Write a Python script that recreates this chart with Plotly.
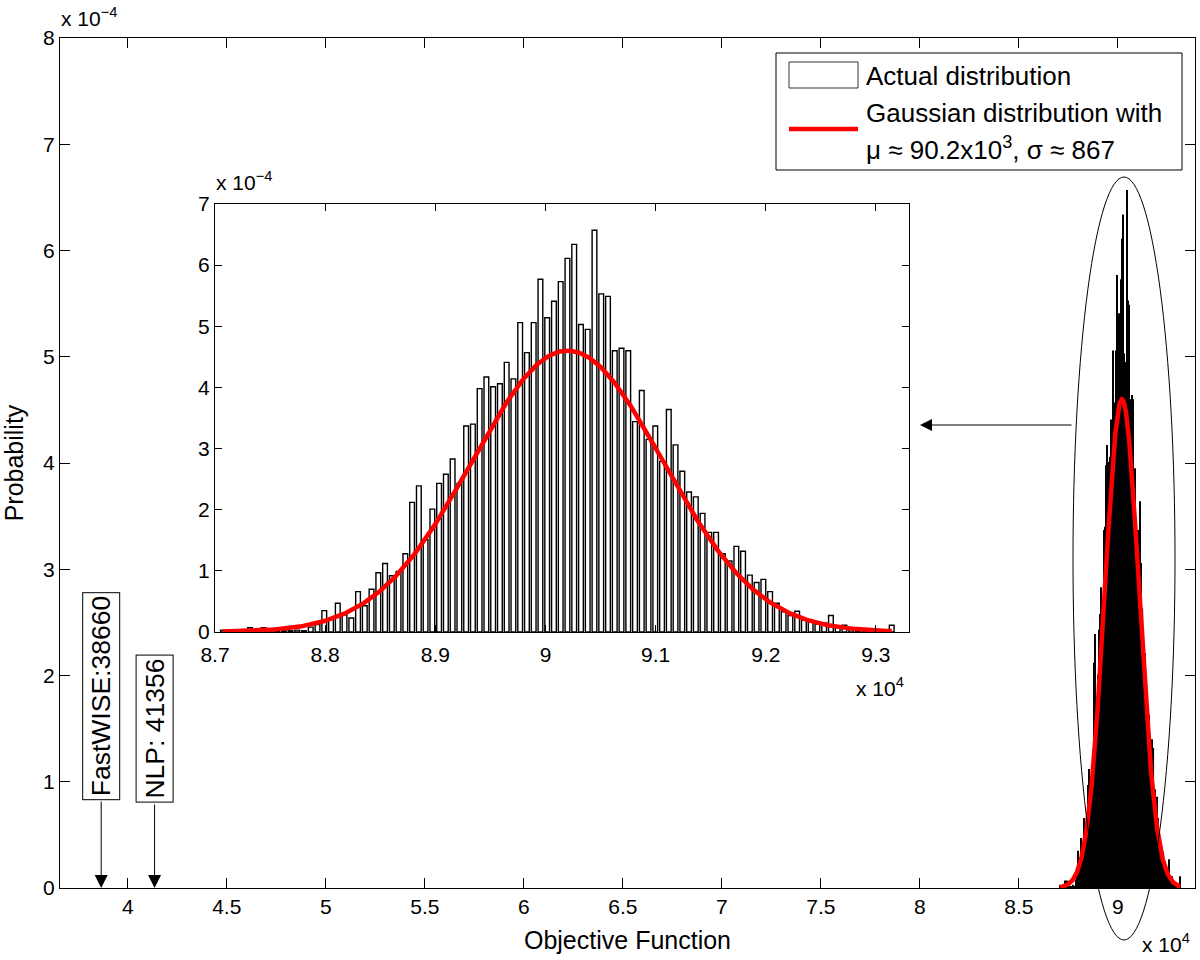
import numpy as np
import plotly.graph_objects as go

# ---------------- data ----------------
# histogram of objective-function values (probability, in units of 1e-4)
prob_e4 = [
    0.03, 0.00, 0.00, 0.00, 0.07, 0.00, 0.07, 0.02, 0.01, 0.02,
    0.02, 0.03, 0.02, 0.08, 0.12, 0.35, 0.21, 0.47, 0.28, 0.23,
    0.66, 0.43, 0.70, 0.97, 1.12, 0.92, 0.99, 1.28, 2.12, 2.39,
    1.51, 2.01, 2.43, 2.58, 2.83, 2.43, 3.37, 3.40, 3.98, 4.17,
    4.01, 4.06, 4.41, 4.14, 5.06, 4.57, 5.06, 5.77, 5.14, 5.41,
    5.73, 6.11, 6.34, 5.03, 4.95, 6.57, 5.53, 5.49, 4.60, 4.64,
    4.60, 3.44, 3.95, 3.15, 3.37, 2.79, 3.64, 3.06, 2.63, 2.29,
    2.21, 1.94, 1.63, 1.63, 1.28, 1.16, 1.40, 1.32, 0.93, 0.81,
    0.86, 0.66, 0.47, 0.33, 0.27, 0.34, 0.19, 0.18, 0.13, 0.15,
    0.27, 0.08, 0.11, 0.04, 0.02, 0.02, 0.01, 0.00, 0.00, 0.11,
]
first_bin_center = 87072
last_bin_center = 93143

# fitted Gaussian (from legend)
gauss_mu = 90200
gauss_sigma = 867

# reference solutions
ref_names = ["FastWISE:38660", "NLP: 41356"]
ref_values = [38660, 41356]

# axis ticks
main_xticks = [40000, 45000, 50000, 55000, 60000, 65000, 70000, 75000, 80000, 85000, 90000]
main_xticklabels = ["4", "4.5", "5", "5.5", "6", "6.5", "7", "7.5", "8", "8.5", "9"]
main_yticks_e4 = [0, 1, 2, 3, 4, 5, 6, 7, 8]
inset_xticks = [87000, 88000, 89000, 90000, 91000, 92000, 93000]
inset_xticklabels = ["8.7", "8.8", "8.9", "9", "9.1", "9.2", "9.3"]
inset_yticks_e4 = [0, 1, 2, 3, 4, 5, 6, 7]

# ---------------- derived ----------------
probs = np.array(prob_e4) * 1e-4
n_bins = len(probs)
centers = np.linspace(first_bin_center, last_bin_center, n_bins)
bin_w = (last_bin_center - first_bin_center) / (n_bins - 1)
curve_x = np.linspace(first_bin_center, last_bin_center, 400)
curve_y = np.exp(-0.5 * ((curve_x - gauss_mu) / gauss_sigma) ** 2) / (gauss_sigma * np.sqrt(2 * np.pi))

FONT = "Liberation Sans, Arial, Helvetica, sans-serif"
W, H = 1200, 960
ML, MR, MT, MB = 60, 5, 38, 72
PW, PH = W - ML - MR, H - MT - MB


def px(xp):
    return (xp - ML) / PW


def py(yp):
    return (H - MB - yp) / PH


fig = go.Figure()

# main histogram + Gaussian
fig.add_trace(go.Bar(x=centers, y=probs, width=bin_w, marker=dict(color="black", line=dict(width=0)),
                     xaxis="x", yaxis="y", showlegend=False, hoverinfo="skip"))
fig.add_trace(go.Scatter(x=curve_x, y=curve_y, mode="lines", line=dict(color="#ff0000", width=4.5),
                         xaxis="x", yaxis="y", showlegend=False, hoverinfo="skip"))

# inset histogram + Gaussian
fig.add_trace(go.Bar(x=centers, y=probs, width=bin_w * 0.7,
                     marker=dict(color="white", line=dict(color="black", width=1.4)),
                     xaxis="x2", yaxis="y2", showlegend=False, hoverinfo="skip"))
fig.add_trace(go.Scatter(x=curve_x, y=curve_y, mode="lines", line=dict(color="#ff0000", width=4.5),
                         xaxis="x2", yaxis="y2", showlegend=False, hoverinfo="skip"))

axis_common = dict(showline=True, linecolor="black", linewidth=1.2, mirror="ticks", ticks="inside",
                   tickcolor="black", showgrid=False, zeroline=False, automargin=False,
                   tickfont=dict(family=FONT, size=21, color="black"))

inset_x0, inset_x1 = px(215), px(909)
inset_y0, inset_y1 = py(632), py(204)

fig.update_layout(
    width=W, height=H,
    margin=dict(l=ML, r=MR, t=MT, b=MB),
    paper_bgcolor="white", plot_bgcolor="white",
    barmode="overlay",
    font=dict(family=FONT, color="black"),
    xaxis=dict(**axis_common, domain=[0, 1], range=[36580, 93890], tickvals=main_xticks,
               ticktext=main_xticklabels, ticklen=10,
               title=dict(text="Objective Function", font=dict(family=FONT, size=25), standoff=14)),
    yaxis=dict(**axis_common, domain=[0, 1], range=[0, 8e-4], tickvals=[v * 1e-4 for v in main_yticks_e4],
               ticktext=[str(v) for v in main_yticks_e4], ticklen=10,
               title=dict(text="Probability", font=dict(family=FONT, size=25), standoff=15)),
    xaxis2=dict(**axis_common, domain=[inset_x0, inset_x1], anchor="y2", range=[87000, 93300],
                tickvals=inset_xticks, ticktext=inset_xticklabels, ticklen=7, ticklabelstandoff=4),
    yaxis2=dict(**axis_common, domain=[inset_y0, inset_y1], anchor="x2", range=[0, 7e-4],
                tickvals=[v * 1e-4 for v in inset_yticks_e4], ticktext=[str(v) for v in inset_yticks_e4],
                ticklen=7),
)

shapes = []
annotations = []

# inset background (white) drawn below traces
shapes.append(dict(type="rect", xref="paper", yref="paper", x0=inset_x0, x1=inset_x1, y0=inset_y0, y1=inset_y1,
                   fillcolor="white", line=dict(width=0), layer="below"))

# ellipse around the main histogram
shapes.append(dict(type="circle", xref="paper", yref="paper", x0=px(1073), x1=px(1175), y0=py(940), y1=py(177),
                   line=dict(color="black", width=1)))

# legend (drawn manually)
shapes.append(dict(type="rect", xref="paper", yref="paper", x0=px(776), x1=px(1182), y0=py(170), y1=py(53),
                   fillcolor="white", line=dict(color="black", width=1)))
shapes.append(dict(type="rect", xref="paper", yref="paper", x0=px(789), x1=px(858), y0=py(88), y1=py(62),
                   fillcolor="white", line=dict(color="#333333", width=1)))
shapes.append(dict(type="line", xref="paper", yref="paper", x0=px(789), x1=px(858), y0=py(129), y1=py(129),
                   line=dict(color="#ff0000", width=4.5)))
leg_font = dict(family=FONT, size=26, color="black")
annotations.append(dict(text="Actual distribution", xref="paper", yref="paper", x=px(864), y=py(76),
                        xanchor="left", yanchor="middle", showarrow=False, font=leg_font))
annotations.append(dict(text="Gaussian distribution with", xref="paper", yref="paper", x=px(864), y=py(113),
                        xanchor="left", yanchor="middle", showarrow=False, font=leg_font))
annotations.append(dict(text="\u03bc \u2248 90.2x10<sup>3</sup>, \u03c3 \u2248 867", xref="paper", yref="paper",
                        x=px(864), y=py(148), xanchor="left", yanchor="middle", showarrow=False, font=leg_font))

# arrow from ellipse to inset
annotations.append(dict(text="", xref="paper", yref="paper", x=px(920), y=py(425), ax=153, ay=0,
                        showarrow=True, arrowhead=2, arrowsize=2.4, arrowwidth=1, arrowcolor="black"))

# reference-solution markers
box_bottoms = [800, 803]
for name, val, bb in zip(ref_names, ref_values, box_bottoms):
    annotations.append(dict(text="", xref="x", yref="y", x=val, y=0, ax=0, ay=-(888 - bb),
                            showarrow=True, arrowhead=2, arrowsize=2.6, arrowwidth=1, arrowcolor="black"))
    annotations.append(dict(text=name, xref="x", yref="paper", x=val, y=py(bb), xanchor="center",
                            yanchor="bottom", textangle=-90, showarrow=False, bgcolor="white",
                            bordercolor="black", borderwidth=1, borderpad=3,
                            font=dict(family=FONT, size=26.5, color="black")))

# exponent labels
exp_font = dict(family=FONT, size=21, color="black")
annotations.append(dict(text="x 10<sup>\u22124</sup>", xref="paper", yref="paper", x=px(59), y=py(32),
                        xanchor="left", yanchor="bottom", showarrow=False, font=exp_font))
annotations.append(dict(text="x 10<sup>\u22124</sup>", xref="paper", yref="paper", x=px(214), y=py(196),
                        xanchor="left", yanchor="bottom", showarrow=False, font=exp_font))
annotations.append(dict(text="x 10<sup>4</sup>", xref="paper", yref="paper", x=px(1192), y=py(958),
                        xanchor="right", yanchor="bottom", showarrow=False, font=exp_font))
annotations.append(dict(text="x 10<sup>4</sup>", xref="paper", yref="paper", x=px(906), y=py(702),
                        xanchor="right", yanchor="bottom", showarrow=False, font=exp_font))

fig.update_layout(shapes=shapes, annotations=annotations)

fig.write_html("out.html", config={"displayModeBar": False},
               post_script="document.body.style.margin='0';document.body.style.overflow='hidden';")
